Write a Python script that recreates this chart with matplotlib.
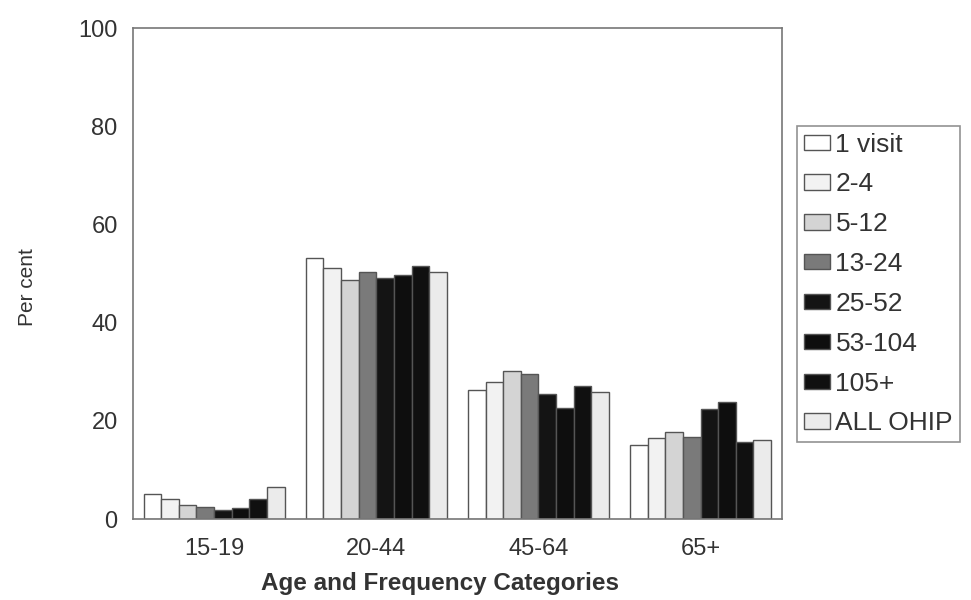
import matplotlib
matplotlib.use("Agg")
import matplotlib.pyplot as plt
import numpy as np

plt.rcParams['font.family'] = ['Liberation Sans', 'DejaVu Sans']

categories = ["15-19", "20-44", "45-64", "65+"]
series_labels = ["1 visit", "2-4", "5-12", "13-24", "25-52", "53-104", "105+", "ALL OHIP"]
values = {
    "1 visit":  [5.1, 53.1, 26.3, 15.0],
    "2-4":      [4.1, 51.2, 28.0, 16.5],
    "5-12":     [2.9, 48.6, 30.1, 17.7],
    "13-24":    [2.4, 50.4, 29.6, 16.7],
    "25-52":    [1.8, 49.2, 25.4, 22.4],
    "53-104":   [2.3, 49.7, 22.7, 23.9],
    "105+":     [4.1, 51.6, 27.1, 15.6],
    "ALL OHIP": [6.5, 50.4, 25.8, 16.1],
}
colors = ["#ffffff", "#f2f2f2", "#d4d4d4", "#7a7a7a", "#141414", "#0e0e0e", "#101010", "#ebebeb"]
y_ticks = [0, 20, 40, 60, 80, 100]

fig = plt.figure(figsize=(9.71, 6.0), dpi=100)
ax = fig.add_axes([0.137, 0.135, 0.668, 0.818])

n = len(series_labels)
bw = 0.87 / n
x = np.arange(len(categories))
for i, lab in enumerate(series_labels):
    ax.bar(x - 0.435 + bw * (i + 0.5), values[lab], width=bw, color=colors[i],
           edgecolor="#555555", linewidth=1.0, label=lab)

ax.set_xlim(-0.5, len(categories) - 0.5)
ax.set_ylim(0, 100)
ax.set_yticks(y_ticks)
ax.set_xticks(x)
ax.set_xticklabels(categories)
ax.tick_params(axis="both", length=0, labelsize=17, colors="#333333", pad=11)
ax.tick_params(axis="x", pad=14)
for s in ax.spines.values():
    s.set_color("#777777")
    s.set_linewidth(1.2)
ax.set_ylabel("Per cent", fontsize=15, color="#333333")
ax.yaxis.set_label_coords(-0.148, 0.472)
ax.set_xlabel("Age and Frequency Categories", fontsize=17.5, fontweight="bold",
              color="#333333")
ax.xaxis.set_label_coords(0.473, -0.108)

leg = fig.legend(loc="upper left", bbox_to_anchor=(0.821, 0.79), fontsize=19,
                 frameon=True, fancybox=False, edgecolor="#777777",
                 handlelength=1.0, handleheight=0.52, handletextpad=0.2,
                 labelspacing=0.6, borderpad=0.25, borderaxespad=0.0)
leg.get_frame().set_linewidth(1.2)
for t in leg.get_texts():
    t.set_color("#333333")

fig.savefig("out.png", dpi=100)
